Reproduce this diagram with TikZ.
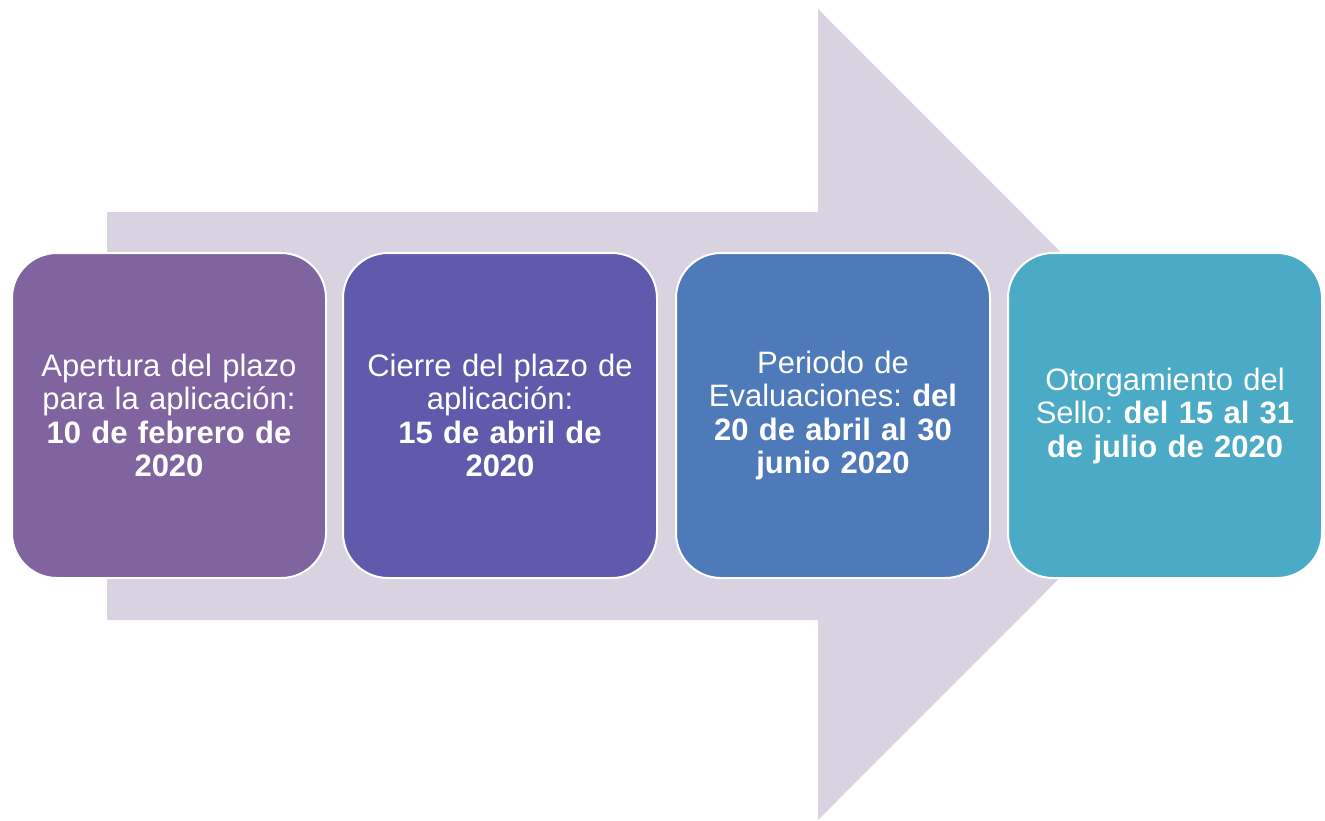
\documentclass[tikz,border=0pt]{standalone}
\usepackage{fontspec}
\setmainfont{Liberation Sans}
\frenchspacing
\definecolor{arrowc}{HTML}{D8D2E1}
\definecolor{c1}{HTML}{8064A0}
\definecolor{c2}{HTML}{5F5AAB}
\definecolor{c3}{HTML}{4F7AB9}
\definecolor{c4}{HTML}{4BAAC5}
\tikzset{
  stagebox/.style={draw=white, line width=2pt, rounded corners=45pt,
    minimum width=314pt, minimum height=325pt, text width=300pt,
    align=center, text=white, inner sep=0pt,
    font=\fontsize{31}{33.5}\selectfont\frenchspacing}
}
\begin{document}
\begin{tikzpicture}[x=1pt,y=-1pt]
\useasboundingbox (0,0) rectangle (1325,820);
\fill[white] (0,0) rectangle (1325,820);
% big arrow
\fill[arrowc] (107,212) -- (818,212) -- (818,9) -- (1223,414.5) -- (818,820) -- (818,620) -- (107,620) -- cycle;
% stages
\node[stagebox, fill=c1] (s1) at (169,415.5) {Apertura del plazo\\para la aplicación:\\\textbf{10 de febrero de}\\\textbf{2020}};
\node[stagebox, fill=c2] (s2) at (500,415.5) {Cierre del plazo de\\aplicación:\\\textbf{15 de abril de}\\\textbf{2020}};
\node[stagebox, fill=c3] (s3) at (833,415.5) {Periodo de\\Evaluaciones: \textbf{del}\\\textbf{20 de abril al 30}\\\textbf{junio 2020}};
\node[stagebox, fill=c4] (s4) at (1165,415.5) {Otorgamiento del\\Sello: \textbf{del 15 al 31}\\\textbf{de julio de 2020}};
\end{tikzpicture}
\end{document}
